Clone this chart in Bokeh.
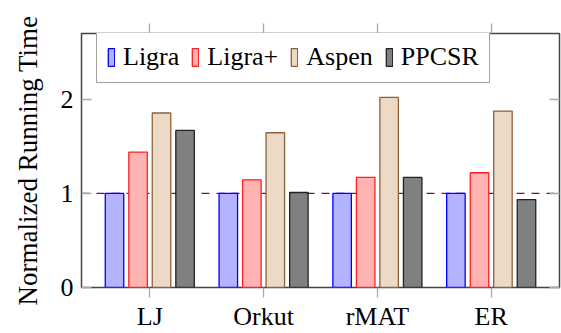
from bokeh.plotting import figure
from bokeh.models import (ColumnDataSource, FactorRange, Range1d, FixedTicker,
                          LinearAxis, CategoricalAxis, Span, Legend, LegendItem,
                          CustomJSTickFormatter)
from bokeh.transform import dodge
from bokeh.embed import file_html
from bokeh.resources import INLINE

categories = ["LJ", "Orkut", "rMAT", "ER"]
ligra = [1.0, 1.0, 1.0, 1.0]
ligra_plus = [1.44, 1.145, 1.17, 1.22]
aspen = [1.855, 1.645, 2.02, 1.875]
ppcsr = [1.67, 1.01, 1.17, 0.935]
series_names = ["Ligra", "Ligra+", "Aspen", "PPCSR"]
y_ticks = [0, 1, 2]
baseline = 1.0

FONT = "Liberation Serif"
FS = "26px"

src = ColumnDataSource(dict(cat=categories, ligra=ligra, ligra_plus=ligra_plus,
                            aspen=aspen, ppcsr=ppcsr))

p = figure(x_range=FactorRange(*categories, range_padding=0.1,
                               range_padding_units="absolute"),
           y_range=Range1d(0, 2.7),
           width=561, height=333, output_backend="svg", toolbar_location=None,
           min_border_left=81, min_border_right=2, min_border_top=33,
           min_border_bottom=45)
p.background_fill_color = "white"
p.border_fill_color = "white"
p.outline_line_color = "#444444"
p.outline_line_width = 1.5
p.xgrid.visible = False
p.ygrid.visible = False

span = Span(location=baseline, dimension="width", line_color="#800080",
            line_dash="8 7", line_width=1.3, level="underlay")
p.add_layout(span)

styles = [
    ("ligra", "#b3b3ff", "#0000ff"),
    ("ligra_plus", "#ffb3b3", "#ff2020"),
    ("aspen", "#ecd9c6", "#8c6239"),
    ("ppcsr", "#808080", "#222222"),
]
offsets = [-0.31, -0.103, 0.103, 0.31]
renderers = []
for (key, fc, lc), off in zip(styles, offsets):
    r = p.vbar(x=dodge("cat", off, range=p.x_range), top=key, width=0.1626,
               source=src, fill_color=fc, line_color=lc, line_width=1.3)
    renderers.append(r)

# bottom axis
xa = p.xaxis[0]
xa.axis_line_color = None
xa.major_tick_in = 0
xa.major_tick_out = 10
xa.major_tick_line_color = "#aaaaaa"
xa.major_tick_line_width = 1.3
xa.minor_tick_line_color = None
xa.major_label_text_font = FONT
xa.major_label_text_font_size = FS
xa.major_label_text_font_style = "normal"
xa.major_label_text_color = "black"
xa.major_label_standoff = 4

# left axis
ya = p.yaxis[0]
ya.ticker = FixedTicker(ticks=y_ticks)
ya.axis_line_color = None
ya.major_tick_in = 10
ya.major_tick_out = 0
ya.minor_tick_line_color = None
ya.major_tick_line_color = "#aaaaaa"
ya.major_tick_line_width = 1.3
ya.major_label_text_font = FONT
ya.major_label_text_font_size = FS
ya.major_label_text_font_style = "normal"
ya.major_label_text_color = "black"
ya.major_label_standoff = 8
ya.axis_label = "Normalized Running Time"
ya.axis_label_text_font = FONT
ya.axis_label_text_font_size = "27px"
ya.axis_label_text_font_style = "normal"
ya.axis_label_text_color = "black"
ya.axis_label_standoff = 15

# top axis (ticks only)
top = CategoricalAxis(axis_line_color=None, major_tick_in=0, major_tick_out=10,
                      major_tick_line_color="#aaaaaa", major_tick_line_width=1.3,
                      minor_tick_line_color=None,
                      formatter=CustomJSTickFormatter(code="return ''"),
                      major_label_standoff=0)
p.add_layout(top, "above")

# right axis (ticks only)
right = LinearAxis(ticker=FixedTicker(ticks=y_ticks), axis_line_color=None,
                   major_tick_in=10, major_tick_out=0,
                   major_tick_line_color="#aaaaaa", major_tick_line_width=1.3,
                   minor_tick_line_color=None,
                   formatter=CustomJSTickFormatter(code="return ''"),
                   major_label_standoff=-10)
p.add_layout(right, "right")

legend = Legend(items=[LegendItem(label=n, renderers=[r])
                       for n, r in zip(series_names, renderers)],
                orientation="horizontal", location=(15, 204), margin=0,
                padding=10, spacing=12, label_standoff=8,
                glyph_width=8, glyph_height=22,
                label_text_font=FONT, label_text_font_size=FS,
                label_text_font_style="normal",
                label_text_color="black",
                border_line_color="#444444", border_line_width=1.3,
                background_fill_color="white", background_fill_alpha=1.0)
p.add_layout(legend)

open("out.html", "w").write(file_html(p, INLINE))
